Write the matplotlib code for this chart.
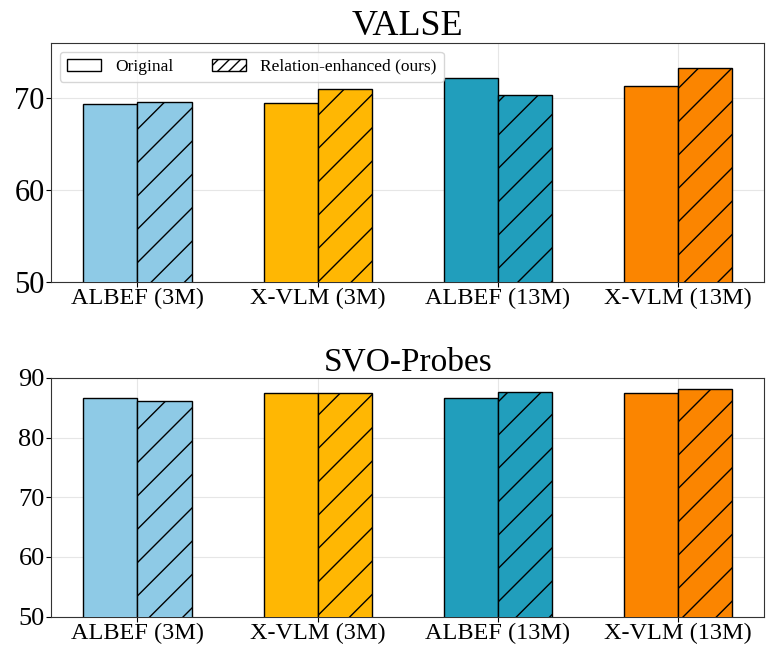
import numpy as np
import matplotlib
matplotlib.use('Agg')
import matplotlib.pyplot as plt
from matplotlib.patches import Patch

# ---------------------------------------------------------------------------
# Data
# ---------------------------------------------------------------------------
models = ['ALBEF (3M)', 'X-VLM (3M)', 'ALBEF (13M)', 'X-VLM (13M)']
colors = ['#8ecae6', '#ffb703', '#219ebc', '#fb8500']

valse_orig = [69.4, 69.5, 72.2, 71.3]
valse_rel = [69.6, 71.0, 70.4, 73.3]

svo_orig = [86.6, 87.4, 86.6, 87.4]
svo_rel = [86.2, 87.4, 87.6, 88.2]

plt.rcParams['font.family'] = ['Liberation Serif', 'DejaVu Serif']
plt.rcParams['hatch.linewidth'] = 1.0

fig = plt.figure(figsize=(7.67, 6.47), dpi=100)
ax1 = fig.add_axes([0.0665, 0.564, 0.930, 0.3695])
ax2 = fig.add_axes([0.0665, 0.047, 0.930, 0.369])

x = np.arange(len(models))
w = 0.3


def draw(ax, orig, rel, title, ylim, yticks, ysize, tsize):
    ax.bar(x - w / 2, orig, w, color=colors, edgecolor='black',
           linewidth=1.0, zorder=3)
    ax.bar(x + w / 2, rel, w, color=colors, edgecolor='black',
           linewidth=1.0, hatch='/', zorder=3)
    ax.set_ylim(*ylim)
    ax.set_yticks(yticks)
    ax.set_xticks(x)
    ax.set_xticklabels(models)
    ax.tick_params(axis='x', labelsize=17.5, pad=1)
    ax.tick_params(axis='y', labelsize=ysize, pad=1)
    ax.grid(True, color='#e6e6e6', linewidth=0.8, zorder=0)
    ax.set_axisbelow(True)
    ax.set_title(title, fontsize=tsize, pad=4)
    for s in ax.spines.values():
        s.set_color('#333333')


draw(ax1, valse_orig, valse_rel, 'VALSE', (50, 76), [50, 60, 70], 22, 26)
draw(ax2, svo_orig, svo_rel, 'SVO-Probes', (50, 90), [50, 60, 70, 80, 90],
     19, 24)

handles = [Patch(facecolor='white', edgecolor='black', label='Original'),
           Patch(facecolor='white', edgecolor='black', hatch='///',
                 label='Relation-enhanced (ours)')]
ax1.legend(handles=handles, loc='upper left', ncol=2, fontsize=12.5,
           frameon=True, framealpha=0.8, edgecolor='#cccccc',
           columnspacing=2.2, borderaxespad=0.5)

fig.savefig('out.png', dpi=100)
